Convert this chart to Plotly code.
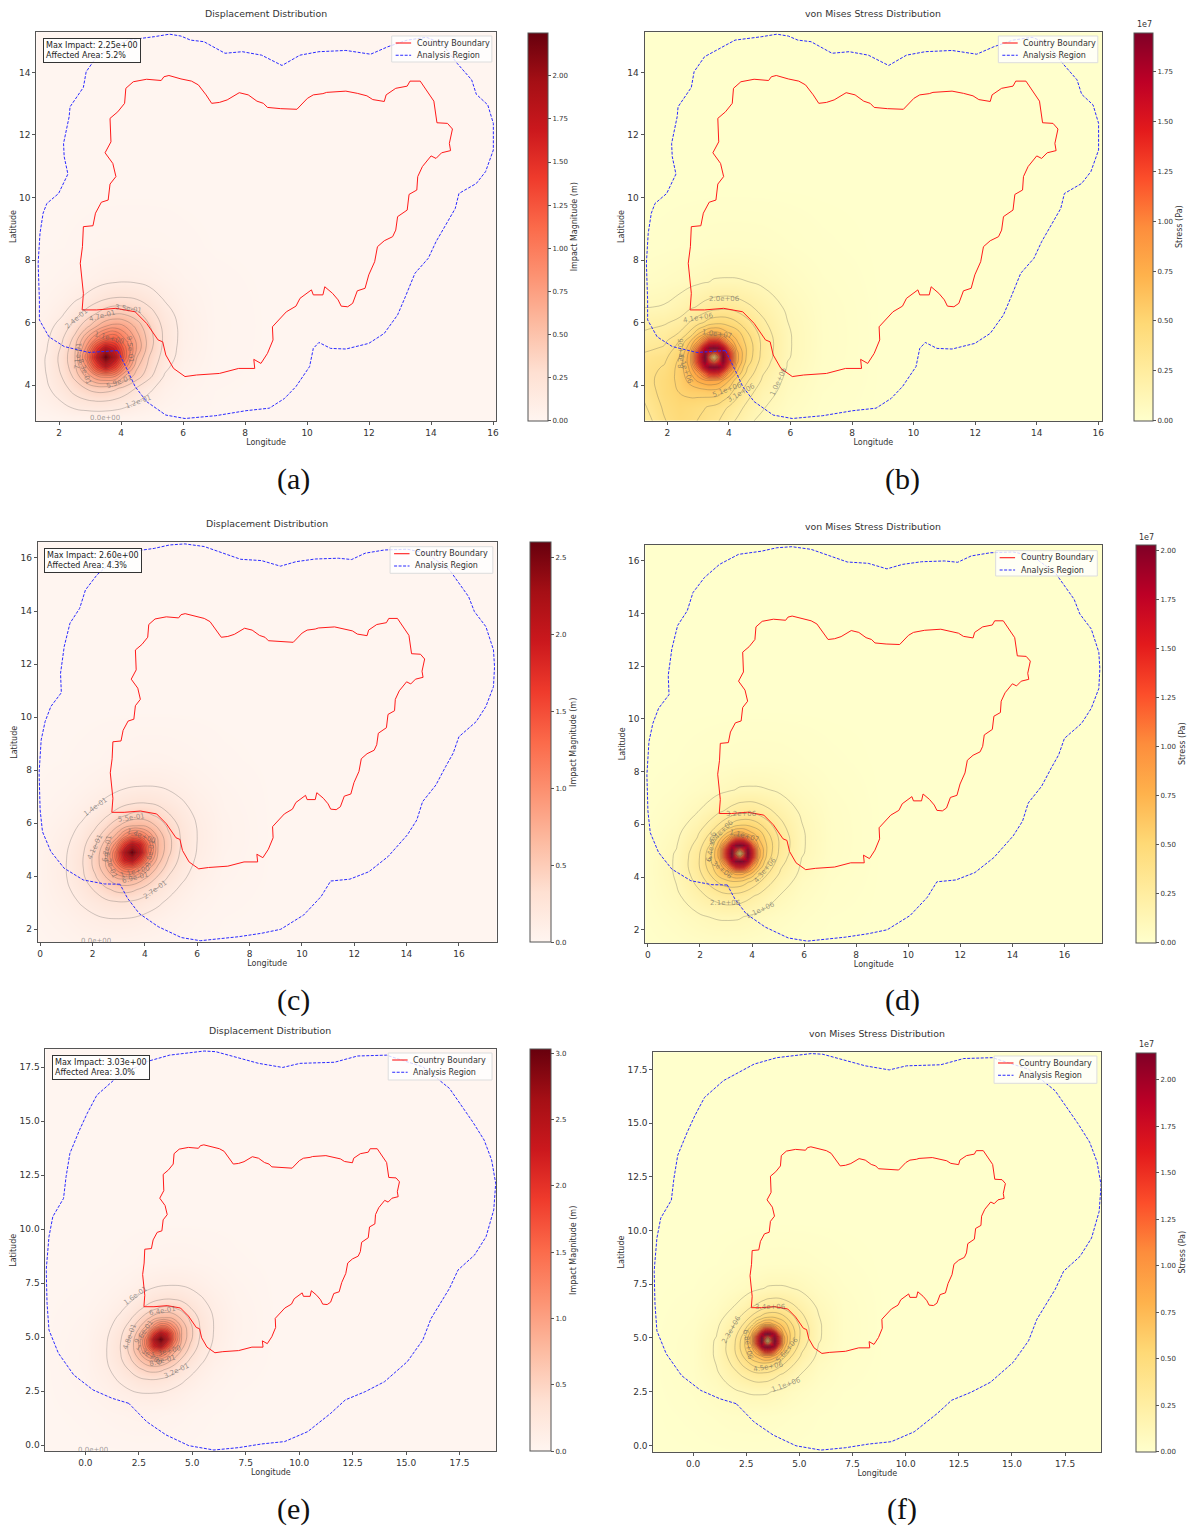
import numpy as np
import plotly.graph_objects as go

# ---------- data ----------
BOUNDARY_LON = [2.74,2.78,2.68,2.75,2.78,3.09,3.17,3.36,3.58,3.62,3.64,3.83,3.73,3.48,3.67,3.64,3.89,4.11,4.15,4.39,4.82,5.29,5.38,5.54,5.93,6.27,6.49,6.74,6.92,7.17,7.42,7.81,8.10,8.38,8.59,8.72,9.15,9.67,10.01,10.2,10.51,10.63,11.25,11.62,11.93,12.12,12.49,12.55,12.86,13.23,13.32,13.65,14.09,14.19,14.53,14.69,14.59,14.63,14.34,14.16,14.0,13.72,13.57,13.54,13.29,13.23,12.92,12.86,12.76,12.49,12.27,12.18,11.99,11.87,11.62,11.47,11.31,11.10,11.0,10.82,10.57,10.51,10.2,10.14,9.77,9.64,9.33,8.88,8.90,8.72,8.51,8.28,8.31,7.79,7.17,6.43,6.06,5.69,5.44,5.34,5.19,4.82,4.45,3.83,3.21,2.74]
BOUNDARY_LAT = [6.41,6.94,7.90,8.43,9.07,9.10,9.50,9.85,9.92,10.24,10.43,10.67,11.09,11.43,11.78,12.53,12.74,13.01,13.49,13.70,13.78,13.74,13.86,13.90,13.79,13.72,13.60,13.28,13.01,13.04,13.12,13.35,13.28,13.08,13.01,12.88,12.84,12.82,13.17,13.28,13.32,13.36,13.40,13.33,13.25,13.13,13.07,13.28,13.49,13.56,13.72,13.72,13.08,12.39,12.37,12.19,11.73,11.50,11.43,11.25,11.33,10.99,10.67,10.24,10.10,9.60,9.39,8.96,8.75,8.62,8.43,7.95,7.53,7.10,7.02,6.62,6.51,6.53,6.73,6.94,7.15,6.89,6.89,7.05,6.78,6.53,6.35,5.87,5.45,5.02,4.70,4.83,4.54,4.54,4.38,4.33,4.28,4.54,4.97,5.39,5.45,5.98,6.35,6.46,6.41,6.41]

REGION_AB_LON = [3.89,2.96,2.16,1.67,1.36,1.36,1.32,1.38,1.48,1.60,1.98,2.28,2.16,2.14,2.32,2.35,2.78,2.87,3.21,4.20,5.07,5.56,5.93,6.24,6.67,7.35,7.91,8.53,9.19,9.77,10.38,11.25,12.05,12.61,13.23,13.85,14.34,14.84,15.31,15.46,15.83,16.01,16.01,15.76,15.46,14.90,14.78,14.53,14.16,13.91,13.48,13.17,12.92,12.49,11.99,11.25,10.76,10.38,10.20,10.08,9.64,9.27,8.78,8.03,7.05,6.06,5.44,4.82,4.45,4.20,3.89]
REGION_AB_LAT = [5.11,5.05,5.24,5.55,6.09,6.73,7.90,8.86,9.50,9.81,10.13,10.75,11.31,11.73,12.58,12.90,13.52,14.02,14.50,15.03,15.14,15.22,15.16,15.03,14.98,14.61,14.66,14.55,14.22,14.55,14.66,14.70,14.58,14.82,15.03,15.12,14.93,14.29,13.76,13.30,12.96,12.37,11.52,10.83,10.45,10.13,9.65,9.23,8.59,8.06,7.58,6.83,6.25,5.66,5.34,5.16,5.18,5.37,5.18,4.60,3.96,3.58,3.27,3.19,3.03,2.94,3.05,3.48,3.96,4.49,5.11]

REGION_CD_LON = [3.05,2.46,1.65,.92,.41,.09,0,-.04,.04,.19,.41,.81,.78,.92,1.14,1.51,1.73,2.17,2.75,3.48,4.36,4.95,5.53,6.27,7.66,8.46,9.18,9.78,10.51,11.39,11.90,12.42,13.15,14.03,14.76,15.64,16.37,16.59,17.03,17.32,17.36,17.32,17.03,16.66,16.0,15.78,15.49,15.12,14.61,14.39,14.03,13.29,12.56,11.83,11.10,10.73,10.07,9.19,8.46,7.58,6.12,5.39,4.51,3.78,3.34,3.05]
REGION_CD_LAT = [3.70,3.71,3.86,4.30,4.93,5.68,6.50,7.88,9.14,9.83,10.40,10.92,11.65,12.66,13.54,14.10,14.79,15.36,15.86,16.24,16.36,16.49,16.53,16.43,15.95,15.90,15.69,15.86,15.96,15.99,15.94,16.18,16.30,16.33,16.18,15.55,14.54,13.98,13.41,12.53,11.90,11.15,10.40,9.83,9.26,8.64,8.13,7.44,6.81,6.12,5.56,4.74,4.17,3.89,3.82,3.23,2.54,2.0,1.85,1.72,1.57,1.69,2.10,2.60,3.17,3.70]

REGION_EF_LON = [2.03,1.26,.36,-.54,-1.26,-1.70,-1.79,-1.83,-1.70,-1.52,-1.02,-.90,-.72,-.27,.09,.54,1.43,2.87,3.94,5.56,6.10,8.10,9.23,10.04,11.65,12.73,14.08,15.78,17.03,18.11,18.65,19.0,19.19,19.1,18.74,18.2,17.43,17.03,16.17,15.78,15.06,13.99,13.09,12.16,11.48,10.4,9.32,8.25,7.17,6.01,4.84,3.77,2.87,2.03]
REGION_EF_LAT = [1.94,2.17,2.56,3.25,4.26,5.33,6.57,8.11,9.65,10.58,11.42,12.43,13.51,14.59,15.36,16.2,16.98,17.75,18.05,18.24,18.21,17.67,17.48,17.67,17.72,18.01,18.05,17.51,16.51,14.97,14.12,13.2,12.12,10.89,9.65,8.8,8.11,7.26,5.87,4.87,3.87,2.94,2.48,2.10,1.48,.63,.17,.06,-.11,-.22,-.02,.48,1.09,1.94]

DISP_LON = [-2,0,1,1.6,2.1,2.5,2.9,3.2,3.5,3.8,4.1,4.5,4.9,5.4,6,7,9]
DISP_LAT = [-.6,1.4,2.4,3,3.5,3.9,4.3,4.6,4.9,5.2,5.5,5.9,6.3,6.8,7.4,8.4,10.4]
STRESS_LON = [-2,0,1.1,1.9,2.4,2.75,3,3.2,3.35,3.5,3.65,3.8,4,4.25,4.6,5.1,5.9,7,9]
STRESS_LAT = [-.6,1.4,2.5,3.3,3.8,4.15,4.4,4.6,4.75,4.9,5.05,5.2,5.4,5.65,6,6.5,7.3,8.4,10.4]

# displacement of panel (a), metres
DISP_A = [
[0]*17,
[0]*17,
[0]*17,
[0,0,.01,.02,.035,.048,.052,.055,.052,.048,.04,.03,.02,.012,.007,.003,0],
[0,.005,.03,.07,.125,.19,.225,.24,.237,.215,.18,.125,.085,.047,.022,.005,0],
[0,.011,.045,.1,.19,.285,.365,.405,.405,.375,.315,.225,.14,.07,.033,.007,0],
[0,.012,.05,.12,.245,.385,.64,.82,.88,.85,.6,.42,.27,.11,.045,.011,0],
[0,.012,.05,.125,.27,.44,.85,1.36,1.7,1.38,.92,.5,.32,.145,.056,.013,0],
[0,.012,.05,.125,.28,.46,1.05,1.7,2.25,1.8,1.15,.6,.355,.18,.07,.015,0],
[0,.01,.045,.115,.255,.44,.88,1.42,1.8,1.6,1.12,.7,.4,.2,.075,.017,0],
[0,.008,.04,.1,.225,.385,.72,.95,1.15,1.2,.95,.66,.41,.21,.08,.018,0],
[0,.006,.032,.077,.165,.285,.435,.575,.7,.75,.71,.55,.365,.2,.08,.019,0],
[0,.005,.024,.055,.105,.19,.285,.355,.425,.46,.45,.385,.285,.165,.07,.018,0],
[0,.003,.015,.032,.06,.095,.14,.18,.215,.237,.24,.22,.175,.105,.055,.016,0],
[0,.001,.007,.016,.028,.04,.057,.07,.083,.09,.095,.09,.078,.056,.034,.012,0],
[0,0,.001,.004,.006,.01,.014,.017,.019,.02,.021,.021,.02,.018,.012,.004,0],
[0]*17,
]
# displacement of panel (c), metres
DISP_C = [
[0]*17,
[0,.012,.028,.036,.042,.045,.045,.044,.04,.037,.033,.028,.02,.013,.007,.001,0],
[0,.028,.062,.095,.117,.132,.137,.135,.13,.117,.105,.085,.062,.043,.025,.007,0],
[0,.036,.095,.147,.195,.235,.255,.26,.245,.225,.19,.155,.115,.076,.043,.013,0],
[0,.042,.117,.195,.29,.38,.445,.46,.445,.395,.335,.25,.175,.115,.062,.02,0],
[0,.045,.132,.235,.38,.52,.65,.69,.68,.61,.51,.37,.25,.155,.085,.028,0],
[0,.045,.137,.255,.445,.65,1.0,1.25,1.28,1.03,.73,.51,.335,.19,.105,.033,0],
[0,.044,.135,.26,.46,.69,1.25,1.87,2.08,1.62,1.03,.61,.395,.225,.117,.037,0],
[0,.04,.13,.245,.445,.68,1.28,2.08,2.6,2.08,1.28,.68,.445,.245,.13,.04,0],
[0,.037,.117,.225,.395,.61,1.03,1.62,2.08,1.87,1.25,.69,.46,.26,.135,.044,0],
[0,.033,.105,.19,.335,.51,.73,1.03,1.28,1.25,1.0,.65,.445,.255,.137,.045,0],
[0,.028,.085,.155,.25,.37,.51,.61,.68,.69,.65,.52,.38,.235,.132,.045,0],
[0,.02,.062,.115,.175,.25,.335,.395,.445,.46,.445,.38,.29,.195,.117,.042,0],
[0,.013,.043,.076,.115,.155,.19,.225,.245,.26,.255,.235,.195,.147,.095,.036,0],
[0,.007,.025,.043,.062,.085,.105,.117,.13,.135,.137,.132,.117,.095,.062,.028,0],
[0,.001,.007,.013,.02,.028,.033,.037,.04,.044,.045,.045,.042,.036,.028,.012,0],
[0]*17,
]
# stress of panel (b), units of 1e6 Pa
STRESS_B = [
[0]*19,
[0,1,2,3,3,3,3,3,3,3,2.5,2,1.5,1,.7,.5,.3,.1,0],
[0,1,1.6,3.8,4.4,4.2,3.8,3.4,3.2,3.0,2.7,2.3,1.9,1.5,1.0,.6,.3,.08,0],
[0,1,2.6,4.3,4.8,4.6,4.4,4.2,4.0,3.9,3.7,3.4,3.0,2.5,1.8,1.1,.5,.15,0],
[0,1.2,3.1,4.6,5.2,5.5,5.6,5.7,5.8,5.8,5.7,5.2,4.6,3.6,2.5,1.5,.68,.2,0],
[0,1.3,3.4,4.6,5.4,6.6,7.4,7.9,8.1,8.0,7.8,7.2,6.2,4.6,3.2,1.9,.78,.25,0],
[0,1.3,3.5,4.4,5.5,7.2,9,11.5,13.8,14.4,13.9,11.5,8.2,6.1,3.8,2.15,.9,.27,0],
[0,1.3,3.5,4.2,5.5,7.6,12,16.8,18.7,19.2,18.7,16.8,11.5,6.9,4.2,2.4,1,.29,0],
[0,1.3,3.4,4.0,5.4,8,14,18.7,14.8,11.5,14.8,18.7,13.9,7.6,4.6,2.55,1.03,.31,0],
[0,1.2,3.3,3.8,5.2,8,14.4,19.45,11.5,3,11.5,19.45,14.4,7.7,4.8,2.7,1.1,.32,0],
[0,1.2,3.0,3.5,5,7.7,13.9,18.7,14.8,11.5,14.8,18.7,13.9,7.6,4.9,2.73,1.12,.33,0],
[0,1.1,2.7,3.2,4.6,7,11.5,16.8,18.7,19.2,18.7,16.8,11.5,7.0,4.9,2.78,1.13,.33,0],
[0,1,2.4,2.9,4.2,6.2,8.4,11.5,13.9,14.4,13.9,11.5,8.4,6.3,4.7,2.78,1.13,.34,0],
[0,.9,2.1,2.5,3.2,4.5,6.1,6.9,7.6,7.7,7.6,7.0,6.3,5.75,4.26,2.6,1.12,.34,0],
[0,.7,1.7,1.95,2.35,3.2,3.75,4.2,4.6,4.8,4.9,4.9,4.7,4.26,3.4,2.25,1.05,.33,0],
[0,.45,.95,1.1,1.5,1.9,2.15,2.4,2.55,2.68,2.73,2.78,2.78,2.6,2.25,1.72,.86,.31,0],
[0,.15,.32,.5,.62,.81,.91,.99,1.03,1.1,1.12,1.13,1.13,1.12,1.05,.86,.53,.22,0],
[0,.01,.07,.14,.2,.24,.27,.29,.31,.32,.33,.33,.34,.34,.33,.31,.22,.1,0],
[0]*19,
]
# stress of panel (d), units of 1e6 Pa
STRESS_D = [
[0]*19,
[0,.11,.23,.32,.34,.35,.35,.34,.34,.33,.32,.3,.28,.25,.21,.15,.07,.005,0],
[0,.23,.55,.9,1.1,1.17,1.18,1.18,1.17,1.15,1.08,1.03,.95,.85,.65,.48,.25,.07,0],
[0,.32,.9,1.8,2.35,2.7,2.9,2.9,2.85,2.8,2.65,2.5,2.25,2.0,1.55,1.02,.48,.15,0],
[0,.34,1.1,2.35,3.55,4.45,4.9,5.1,5.1,5.0,4.8,4.4,3.9,3.3,2.45,1.55,.65,.21,0],
[0,.35,1.17,2.7,4.45,6.0,6.6,7.3,7.9,8,7.9,7.2,6.4,4.7,3.3,2.0,.85,.25,0],
[0,.35,1.18,2.9,4.9,6.6,8.8,12,14.5,15,14.5,12,8.5,6.4,3.9,2.25,.95,.28,0],
[0,.34,1.18,2.9,5.1,7.3,12,17.5,19.5,20,19.5,17.5,12,7.2,4.4,2.5,1.03,.3,0],
[0,.34,1.17,2.85,5.1,7.9,14.5,19.5,15.5,12,15.5,19.5,14.5,7.9,4.8,2.65,1.08,.32,0],
[0,.33,1.15,2.8,5,8,15,20.3,12,3,12,20.3,15,8,5,2.8,1.15,.33,0],
[0,.32,1.08,2.65,4.8,7.9,14.5,19.5,15.5,12,15.5,19.5,14.5,7.9,5.1,2.85,1.17,.34,0],
[0,.3,1.03,2.5,4.4,7.2,12,17.5,19.5,20,19.5,17.5,12,7.3,5.1,2.9,1.18,.34,0],
[0,.28,.95,2.25,3.9,6.4,8.5,12,14.5,15,14.5,12,8.8,6.6,4.9,2.9,1.18,.35,0],
[0,.25,.85,2.0,3.3,4.7,6.4,7.2,7.9,8,7.9,7.3,6.6,6.0,4.45,2.7,1.17,.35,0],
[0,.21,.65,1.55,2.45,3.3,3.9,4.4,4.8,5,5.1,5.1,4.9,4.45,3.55,2.35,1.1,.34,0],
[0,.15,.48,1.02,1.55,2.0,2.25,2.5,2.65,2.8,2.85,2.9,2.9,2.7,2.35,1.8,.9,.32,0],
[0,.07,.25,.48,.65,.85,.95,1.03,1.08,1.15,1.17,1.18,1.18,1.17,1.1,.9,.55,.23,0],
[0,.005,.07,.15,.21,.25,.28,.3,.32,.33,.34,.34,.35,.35,.34,.32,.23,.11,0],
[0]*19,
]

PEAK_DISP = {"a": 2.25, "c": 2.60, "e": 3.03}
PEAK_STRESS = {"b": 1.945, "d": 2.03, "f": 2.145}   # units of 1e7 Pa
LEVEL_STEP = {"a": .1184, "c": .137, "e": .16, "b": .103, "d": .107, "f": .113}
MAX_IMPACT = {"a": "2.25e+00", "c": "2.60e+00", "e": "3.03e+00"}
AFFECTED = {"a": "5.2%", "c": "4.3%", "e": "3.0%"}
LEGEND_NAMES = ["Country Boundary", "Analysis Region"]

XT_AB = [2,4,6,8,10,12,14,16]; YT_AB = [4,6,8,10,12,14]
XT_CD = [0,2,4,6,8,10,12,14,16]; YT_CD = [2,4,6,8,10,12,14,16]
XT_EF = [0,2.5,5,7.5,10,12.5,15,17.5]; YT_EF = XT_EF
CB_A = [0,.25,.5,.75,1,1.25,1.5,1.75,2]
CB_C = [0,.5,1,1.5,2,2.5]
CB_E = [0,.5,1,1.5,2,2.5,3]
CB_S = [0,.25,.5,.75,1,1.25,1.5,1.75]
CB_SF = [0,.25,.5,.75,1,1.25,1.5,1.75,2]

LABELS = {
 "a": [("3.5e-01",4.24,6.44,8),("2.4e-01",2.55,6.13,-40),("4.7e-01",3.39,6.2,-15),("7.1e-01",2.6,4.95,-85),("8.3e-01",2.8,4.45,70),
       ("5.9e-01",3.94,4.1,-20),("1.2e-01",4.56,3.47,-20),("0.0e+00",3.49,2.96,0),("1.1e+00",3.6,5.5,15),("9.5e-01",4.27,5.15,85)],
 "b": [("2.0e+06",3.86,6.76,0),("4.1e+06",3.01,6.14,-10),("1.0e+06",5.6,4.12,-65),("3.1e+06",4.4,3.75,-30),("5.1e+06",3.95,3.85,-20),
       ("8.2e+06",2.46,5.03,-90),("6.1e+06",2.6,4.5,70),("1.0e+07",3.6,5.65,8)],
 "c": [("1.4e-01",2.12,6.62,-35),("5.5e-01",3.48,6.18,-8),("4.1e-01",2.09,5.12,-65),("6.7e-01",2.58,5.05,-80),("8.2e-01",2.68,4.43,70),
       ("1.1e+00",3.63,4.17,-15),("6.9e-01",3.63,3.92,-15),("2.7e-01",4.39,3.48,-35),("0.0e+00",2.12,1.56,0),("1.4e+00",3.85,5.5,20),("9.6e-01",4.22,4.87,-80)],
 "d": [("3.2e+06",3.59,6.41,0),("6.4e+06",2.82,5.72,-45),("6.4e+06",2.43,5.15,-80),("4.3e+06",4.52,4.26,-50),("2.1e+06",2.97,3.02,0),
       ("1.1e+06",4.34,2.75,-25),("5.3e+06",2.75,4.33,40),("1.1e+07",3.7,5.55,15)],
 "e": [("1.6e-01",2.33,6.92,-35),("6.4e-01",3.62,6.21,-10),("4.8e-01",2.06,5.03,-70),("9.6e-01",2.73,5.26,-55),("1.3e+00",2.96,4.18,35),
       ("1.3e+00",3.77,4.33,-15),("8.0e-01",3.59,3.92,-15),("3.2e-01",4.27,3.44,-25),("0.0e+00",.36,-.23,0)],
 "f": [("2.3e+06",1.83,5.41,-60),("3.4e+06",3.63,6.42,0),("4.5e+06",3.55,3.66,-10),("1.1e+06",4.38,2.81,-20),("6.8e+06",2.57,4.67,80),("5.6e+06",4.43,4.44,-50)],
}

# ---------- styles and layout ----------
W, H = 1190, 1528
REDS = ["#fff5f0","#fee0d2","#fcbba1","#fc9272","#fb6a4a","#ef3b2c","#cb181d","#a50f15","#67000d"]
YLORRD = ["#ffffcc","#ffeda0","#fed976","#feb24c","#fd8d3c","#fc4e2a","#e31a1c","#bd0026","#800026"]
def cs(cols):
    return [[i/(len(cols)-1), c] for i, c in enumerate(cols)]

FONT = "DejaVu Sans"
TXT = "#333333"
SPINE = "#555555"
RED = "#ff1a1a"
BLUE = "#2a2aff"
DASH = "3px,1.5px"

PANELS = {
 "a": dict(box=(35.4,496.5,32.3,420.7), xr=(1.26,16.09), yr=(2.87,15.28), cb=(529,549), title=(265.8,13.5), leg=(392,492.5,36,62), info=(42,38), cap=(293,479)),
 "b": dict(box=(645.7,1105,32.3,420.7), xr=(1.26,16.13), yr=(2.87,15.28), cb=(1137.3,1156.7), title=(875,14), leg=(1000.7,1100.5,36,62.7), cap=(904.5,479)),
 "c": dict(box=(36.9,497.3,542.3,942.3), xr=(-.09,17.44), yr=(1.51,16.59), cb=(531,551.5), title=(267,523), leg=(390.4,493.5,546.7,573.3), info=(43,548), cap=(293,1000)),
 "d": dict(box=(646.5,1104.9,545,942.7), xr=(-.1,17.45), yr=(1.51,16.595), cb=(1139,1159), title=(875,526), leg=(998,1100,550.7,576), cap=(905,1000)),
 "e": dict(box=(44.6,497,1049.3,1451.3), xr=(-1.865,19.22), yr=(-.28,18.32), cb=(531,551.5), title=(270,1030), leg=(388.5,492.7,1053,1080), info=(51,1055), cap=(293,1509)),
 "f": dict(box=(654.5,1104,1052.3,1451.7), xr=(-1.87,19.2), yr=(-.295,18.3), cb=(1139,1159), title=(879,1033), leg=(996.4,1099.6,1056,1083.3), cap=(904,1509)),
}

DISP_Z = {"a": np.array(DISP_A), "c": np.array(DISP_C), "e": np.array(DISP_C) * PEAK_DISP["e"] / PEAK_DISP["c"]}
STRESS_Z = {"b": np.array(STRESS_B) / 10, "d": np.array(STRESS_D) / 10,
            "f": np.array(STRESS_D) / 10 * PEAK_STRESS["f"] / PEAK_STRESS["d"]}
REGIONS = {"a": (REGION_AB_LON, REGION_AB_LAT), "b": (REGION_AB_LON, REGION_AB_LAT),
           "c": (REGION_CD_LON, REGION_CD_LAT), "d": (REGION_CD_LON, REGION_CD_LAT),
           "e": (REGION_EF_LON, REGION_EF_LAT), "f": (REGION_EF_LON, REGION_EF_LAT)}
TICKS = {"a": (XT_AB,YT_AB,CB_A), "b": (XT_AB,YT_AB,CB_S), "c": (XT_CD,YT_CD,CB_C),
         "d": (XT_CD,YT_CD,CB_SF), "e": (XT_EF,YT_EF,CB_E), "f": (XT_EF,YT_EF,CB_SF)}

fig = go.Figure()
layout = {}
ann = []
shapes = []

def px(x): return x / W
def py(y): return 1 - y / H

for n, key in enumerate("abcdef", start=1):
    p = PANELS[key]
    L, R, T, B = p["box"]
    is_disp = key in DISP_Z
    z = DISP_Z[key] if is_disp else STRESS_Z[key]
    lon, lat = (DISP_LON, DISP_LAT) if is_disp else (STRESS_LON, STRESS_LAT)
    peak = PEAK_DISP[key] if is_disp else PEAK_STRESS[key]
    colors = REDS if is_disp else YLORRD
    xt, yt, cbt = TICKS[key]
    xa, ya = f"x{n}", f"y{n}"
    fmt = ".1f" if key in "ef" else "d"
    cbfmt = ".1f" if key in "ce" else ".2f"
    shapes.append(dict(type="rect", xref="paper", yref="paper", x0=px(L), x1=px(R), y0=py(B), y1=py(T),
                       fillcolor=colors[0], line=dict(width=0), layer="below"))
    fig.add_trace(go.Heatmap(
        x=lon, y=lat, z=z, xaxis=xa, yaxis=ya, zmin=0, zmax=peak, zsmooth="best",
        colorscale=cs(colors), showlegend=False, hoverinfo="skip",
        colorbar=dict(x=px(p["cb"][0]), xanchor="left", xpad=0, ypad=0, y=py(B), yanchor="bottom",
                      len=(B - T) / H, lenmode="fraction", thickness=p["cb"][1] - p["cb"][0], thicknessmode="pixels",
                      outlinecolor=SPINE, outlinewidth=1, ticks="outside", ticklen=3, tickwidth=.8, tickcolor=SPINE,
                      tickvals=cbt, tickformat=cbfmt, tickfont=dict(family=FONT, size=7, color=TXT),
                      title=dict(text="Impact Magnitude (m)" if is_disp else "Stress (Pa)", side="right",
                                 font=dict(family=FONT, size=8, color=TXT)))))
    step = LEVEL_STEP[key]
    fig.add_trace(go.Contour(
        x=lon, y=lat, z=z, xaxis=xa, yaxis=ya, showscale=False, showlegend=False, hoverinfo="skip",
        autocontour=False, contours=dict(start=step, end=peak, size=step, coloring="none"),
        line=dict(color="rgba(70,70,70,0.38)", width=.7, smoothing=1.3)))
    fig.add_trace(go.Scatter(x=BOUNDARY_LON, y=BOUNDARY_LAT, xaxis=xa, yaxis=ya, mode="lines", name=LEGEND_NAMES[0],
                             line=dict(color=RED, width=1), showlegend=False, hoverinfo="skip"))
    rx, ry = REGIONS[key]
    fig.add_trace(go.Scatter(x=rx, y=ry, xaxis=xa, yaxis=ya, mode="lines", name=LEGEND_NAMES[1],
                             line=dict(color=BLUE, width=1, dash=DASH), showlegend=False, hoverinfo="skip"))
    axcommon = dict(showgrid=False, zeroline=False, showline=True, linecolor=SPINE, linewidth=1, mirror=True,
                    ticks="outside", ticklen=3, tickwidth=.8, tickcolor=SPINE,
                    tickfont=dict(family=FONT, size=9, color=TXT))
    sfx = "" if n == 1 else str(n)
    layout[f"xaxis{sfx}"] = dict(domain=[px(L), px(R)], range=list(p["xr"]), anchor=ya, tickvals=xt, tickformat=fmt,
                                 title=dict(text="Longitude", font=dict(family=FONT, size=8, color=TXT), standoff=2), **axcommon)
    layout[f"yaxis{sfx}"] = dict(domain=[py(B), py(T)], range=list(p["yr"]), anchor=xa, tickvals=yt, tickformat=fmt,
                                 title=dict(text="Latitude", font=dict(family=FONT, size=8, color=TXT), standoff=1), **axcommon)
    lx0, lx1, ly0, ly1 = p["leg"]
    shapes.append(dict(type="rect", xref="paper", yref="paper", x0=px(lx0), x1=px(lx1), y0=py(ly1), y1=py(ly0),
                       fillcolor="rgba(255,255,255,0.8)", line=dict(color="#dddddd", width=1)))
    for i, (name, col, dash) in enumerate(zip(LEGEND_NAMES, [RED, BLUE], ["solid", DASH])):
        ry_px = ly0 + 7 + i * 12.3
        shapes.append(dict(type="line", xref="paper", yref="paper", x0=px(lx0 + 4), x1=px(lx0 + 19.5),
                           y0=py(ry_px), y1=py(ry_px), line=dict(color=col, width=1.1, dash=dash)))
        ann.append(dict(text=name, x=px(lx0 + 23), y=py(ry_px), xref="paper", yref="paper", showarrow=False,
                        xanchor="left", yanchor="middle", font=dict(family=FONT, size=8, color=TXT)))
    ann.append(dict(text="Displacement Distribution" if is_disp else "von Mises Stress Distribution",
                    x=px(p["title"][0]), y=py(p["title"][1]), xref="paper", yref="paper", showarrow=False,
                    xanchor="center", yanchor="middle", font=dict(family=FONT, size=9.4, color=TXT)))
    ann.append(dict(text=f"({key})", x=px(p["cap"][0]), y=py(p["cap"][1]), xref="paper", yref="paper", showarrow=False,
                    xanchor="center", yanchor="middle", font=dict(family="Liberation Serif", size=30, color="#111111")))
    if is_disp:
        ann.append(dict(text=f"Max Impact: {MAX_IMPACT[key]}<br>Affected Area: {AFFECTED[key]}",
                        x=px(p["info"][0]), y=py(p["info"][1]), xref="paper", yref="paper", showarrow=False,
                        xanchor="left", yanchor="top", align="left", bgcolor="rgba(255,255,255,0.85)",
                        bordercolor="#333333", borderwidth=1, borderpad=2, font=dict(family=FONT, size=8, color="#222222")))
    else:
        ann.append(dict(text="1e7", x=px(p["cb"][0] + 10), y=py(T - 1), xref="paper", yref="paper", showarrow=False,
                        xanchor="center", yanchor="bottom", font=dict(family=FONT, size=8, color=TXT)))
    for text, lo, la, ang in LABELS[key]:
        ann.append(dict(text=text, x=lo, y=la, xref=xa, yref=ya, showarrow=False, textangle=ang,
                        font=dict(family=FONT, size=7, color="rgba(90,90,90,0.6)")))

fig.update_layout(width=W, height=H, margin=dict(l=0, r=0, t=0, b=0), paper_bgcolor="white",
                  plot_bgcolor="rgba(0,0,0,0)", showlegend=False, annotations=ann, shapes=shapes, **layout)
fig.write_html("out.html", config={"displayModeBar": False}, post_script="document.body.style.margin='0';")
